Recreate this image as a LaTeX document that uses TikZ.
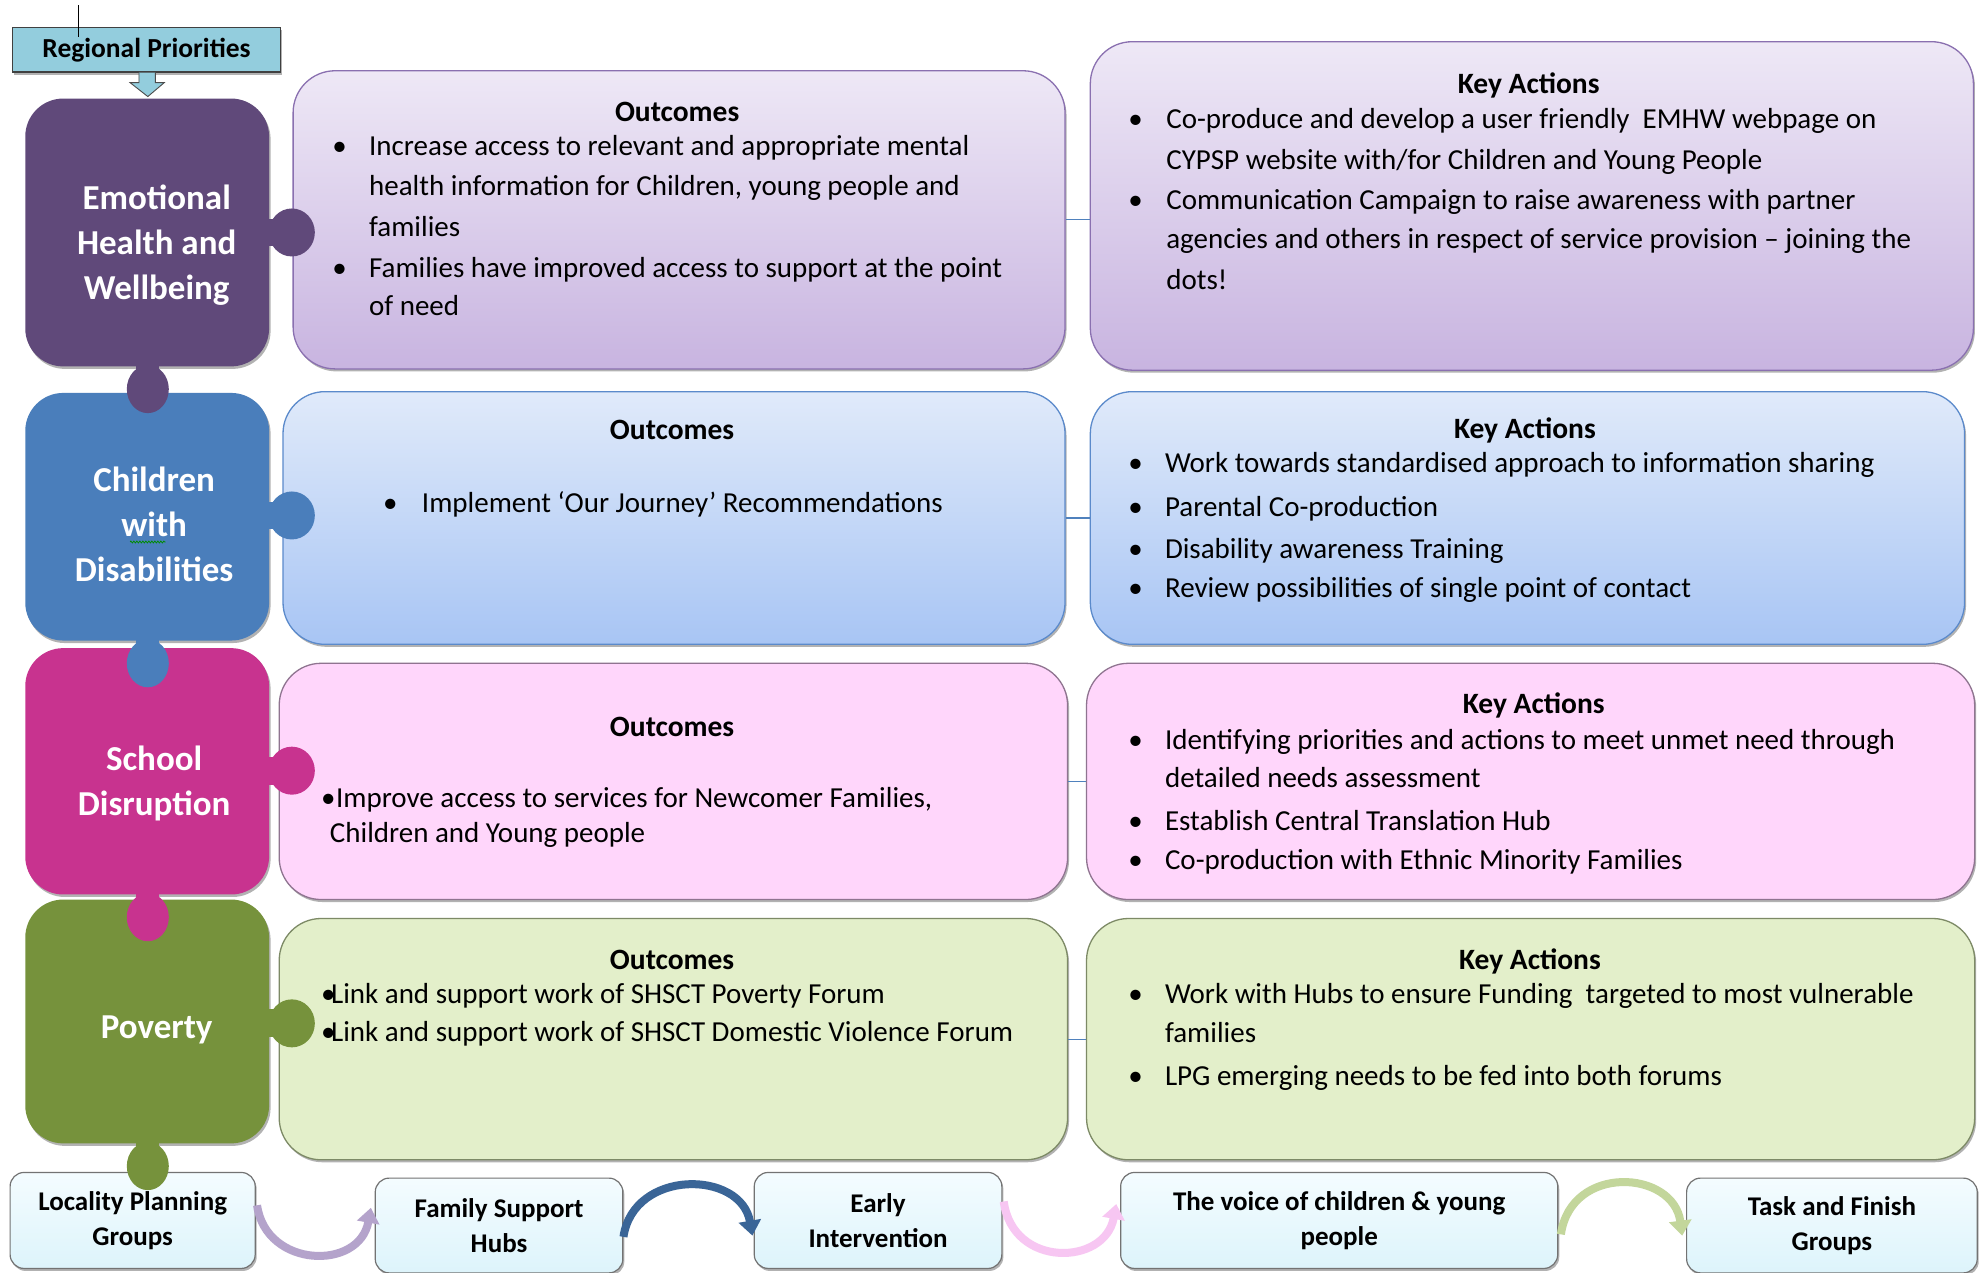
\documentclass[tikz,border=0pt]{standalone}
\usepackage{fontspec}
\setmainfont{Carlito}
\usetikzlibrary{fit,shadows,arrows.meta,decorations.pathmorphing,calc}
\definecolor{tEHW}{HTML}{60497A}
\definecolor{tCWD}{HTML}{4A7EBB}
\definecolor{tSD}{HTML}{C8338F}
\definecolor{tPOV}{HTML}{76923C}
\definecolor{pTop}{HTML}{EEE8F6}
\definecolor{pBot}{HTML}{C8B4E0}
\definecolor{pLine}{HTML}{8A70B0}
\definecolor{bTop}{HTML}{E0EAFA}
\definecolor{bBot}{HTML}{A8C5F4}
\definecolor{bLine}{HTML}{5B8ACB}
\definecolor{kFill}{HTML}{FFD6FB}
\definecolor{kLine}{HTML}{8F7490}
\definecolor{gFill}{HTML}{E3EFCA}
\definecolor{gLine}{HTML}{7D8A66}
\definecolor{cTop}{HTML}{F4FCFF}
\definecolor{cBot}{HTML}{DDF4FB}
\definecolor{rpBlue}{HTML}{93CDDD}
\definecolor{aLav}{HTML}{B4A3CB}
\definecolor{aBlue}{HTML}{3A6597}
\definecolor{aPink}{HTML}{F7C6F2}
\definecolor{aGreen}{HTML}{C3D69B}
\definecolor{conn}{HTML}{4F81BD}
\newcommand\bulletbox[1]{\makebox[#1][l]{•}}
\newcommand\txtline[4]{\node[body] (#1) at (#2,#3) {#4};}
\begin{document}
\begin{tikzpicture}[x=1.2634pt, y=-1.2634pt,
  shad/.style={drop shadow={shadow xshift=1.5pt, shadow yshift=-2.5pt, fill=black, opacity=0.3}},
  bigbox/.style={rounded corners=42pt, line width=1.3pt, inner sep=0pt, shad},
  purplebox/.style={bigbox, draw=pLine, top color=pTop, bottom color=pBot},
  bluebox/.style={bigbox, draw=bLine, top color=bTop, bottom color=bBot},
  pinkbox/.style={bigbox, draw=kLine, fill=kFill},
  greenbox/.style={bigbox, draw=gLine, fill=gFill},
  tile/.style={rounded corners=38pt, inner sep=0pt, draw=none, shad},
  tilelabel/.style={text=white, align=center, inner sep=0pt, font=\fontsize{35}{45}\selectfont\bfseries},
  body/.style={font=\fontsize{29}{36}\selectfont, inner sep=0pt, anchor=base west, text=black},
  head/.style={font=\fontsize{29.5}{36}\selectfont\bfseries, inner sep=0pt, anchor=base, text=black},
  cbox/.style={rounded corners=14pt, inner sep=0pt, draw=black!55, line width=1.2pt, top color=cTop, bottom color=cBot, align=center, shad, font=\fontsize{27}{35}\selectfont\bfseries},
  carrow/.style={line width=8pt, -{Triangle[length=15pt, width=22pt]}},
  link/.style={draw=conn, line width=1.1pt}
]
\useasboundingbox (0,0) rectangle (1568,1007);
\fill[white] (0,0) rectangle (1568,1007);

% ---- outcome and key action boxes
\node[purplebox, fit={(232,56) (843,292)}] (o1) {};
\node[purplebox, fit={(863,33) (1562,293)}] (k1) {};
\node[bluebox, fit={(224,310) (843,510)}] (o2) {};
\node[bluebox, fit={(863,310) (1555,510)}] (k2) {};
\node[pinkbox, fit={(221,525) (845,712)}] (o3) {};
\node[pinkbox, fit={(860,525) (1563,712)}] (k3) {};
\node[greenbox, fit={(221,727) (845,918)}] (o4) {};
\node[greenbox, fit={(860,727) (1563,918)}] (k4) {};

\draw[link] (o1.east) -- (o1.east -| k1.west);
\draw[link] (o2.east) -- (o2.east -| k2.west);
\draw[link] (o3.east) -- (o3.east -| k3.west);
\draw[link] (o4.east) -- (o4.east -| k4.west);

% ---- bottom boxes
\node[cbox, minimum width=245.1pt, minimum height=96pt] (lpg) at (105,966) {Locality Planning\\Groups};
\node[cbox, minimum width=247.6pt, minimum height=94.8pt] (fsh) at (395,970) {Family Support\\Hubs};
\node[cbox, minimum width=247.6pt, minimum height=96pt] (ei) at (695,966) {Early\\Intervention};
\node[cbox, minimum width=437.1pt, minimum height=96pt] (voice) at (1060,966) {The voice of children \& young\\people};
\node[cbox, minimum width=290.6pt, minimum height=94.8pt] (tf) at (1450,970) {Task and Finish\\Groups};

\draw[carrow, aLav] ($(lpg.east)+(1,-12)$) .. controls ($(lpg.east)+(8,38)$) and ($(fsh.west)+(-12,36)$) .. ($(fsh.west)+(-3,-14)$);
\draw[carrow, aBlue] ($(fsh.east)+(0,9)$) .. controls ($(fsh.east)+(8,-45)$) and ($(ei.west)+(-10,-40)$) .. ($(ei.west)+(-1,12)$);
\draw[carrow, aPink] ($(ei.east)+(1,-15)$) .. controls ($(ei.east)+(8,38)$) and ($(voice.west)+(-12,36)$) .. ($(voice.west)+(-3,-13)$);
\draw[carrow, aGreen] ($(voice.east)+(2,11)$) .. controls ($(voice.east)+(10,-45)$) and ($(tf.west)+(-10,-44)$) .. ($(tf.west)+(-3,8)$);

% ---- left puzzle tiles
\node[tile, fill=tEHW, fit={(20,78) (213,290)}] (t1) {};
\node[tile, fill=tCWD, fit={(20,311) (213,507)}] (t2) {};
\node[tile, fill=tSD, fit={(20,513) (213,708)}] (t3) {};
\node[tile, fill=tPOV, fit={(20,712) (213,905)}] (t4) {};

% knobs (right)
\foreach \c/\yy in {tEHW/184, tCWD/408, tSD/610, tPOV/810}{
  \fill[\c] (205,\yy-11) rectangle (226,\yy+11);
  \fill[\c] (231,\yy) ellipse [x radius=23pt, y radius=24pt];
}
% knobs (bottom)
\foreach \c/\yy in {tEHW/290, tCWD/507, tSD/708, tPOV/905}{
  \fill[\c] (108,\yy-6) rectangle (126,\yy+8);
  \fill[\c] (117,\yy+18) ellipse [x radius=21pt, y radius=24pt];
}

\node[tilelabel] (l1) at (124,194) {Emotional\\Health and\\Wellbeing};
\node[tilelabel] (l2) at (122,415) {Children\\with\\Disabilities};
\draw[green!55!black, line width=0.8pt, decorate, decoration={zigzag, amplitude=0.9pt, segment length=3pt}] (103,429) -- (131,429);
\node[tilelabel] (l3) at (122,620) {School\\Disruption};
\node[tilelabel] (l4) at (124,815) {Poverty};

% ---- regional priorities
\node[draw=black!75, line width=1.1pt, fill=rpBlue, inner sep=0pt, minimum width=267.8pt, minimum height=44.2pt, font=\fontsize{27.5}{33}\selectfont\bfseries, shad] (rp) at (116,39.5) {Regional Priorities};
\draw[draw=black!70, fill=rpBlue, line width=0.9pt] ($(rp.south)+(-6,0)$) -- ++(0,8) -- ++(-7,0) -- ($(rp.south)+(1,19)$) -- ($(rp.south)+(14,8)$) -- ++(-7,0) -- ++(0,-8);
\draw[black, line width=1.3pt] (62,4) -- (62,29);

% ---- row 1 text
\node[head] (o1h) at (536,96) {Outcomes};
\txtline{o1a}{263}{123}{\bulletbox{36.6pt}Increase access to relevant and appropriate mental}
\txtline{o1b}{292}{155}{health information for Children, young people and}
\txtline{o1c}{292}{187}{families}
\txtline{o1d}{263}{220}{\bulletbox{36.6pt}Families have improved access to support at the point}
\txtline{o1e}{292}{250}{of need}
\node[head] (k1h) at (1210,74) {Key Actions};
\txtline{k1a}{893}{102}{\bulletbox{37.9pt}Co-produce and develop a user friendly~ EMHW webpage on}
\txtline{k1b}{923}{134}{CYPSP website with/for Children and Young People}
\txtline{k1c}{893}{166}{\bulletbox{37.9pt}Communication Campaign to raise awareness with partner}
\txtline{k1d}{923}{197}{agencies and others in respect of service provision – joining the}
\txtline{k1e}{923}{229}{dots!}

% ---- row 2 text
\node[head] (o2h) at (532,348) {Outcomes};
\txtline{o2a}{303}{406}{\bulletbox{39pt}Implement ‘Our Journey’ Recommendations}
\node[head] (k2h) at (1207,347) {Key Actions};
\txtline{k2a}{893}{374}{\bulletbox{36.6pt}Work towards standardised approach to information sharing}
\txtline{k2b}{893}{409}{\bulletbox{36.6pt}Parental Co-production}
\txtline{k2c}{893}{442}{\bulletbox{36.6pt}Disability awareness Training}
\txtline{k2d}{893}{473}{\bulletbox{36.6pt}Review possibilities of single point of contact}

% ---- row 3 text
\node[head] (o3h) at (532,583) {Outcomes};
\txtline{o3a}{254}{639}{\bulletbox{15pt}Improve access to services for Newcomer Families,}
\txtline{o3b}{261}{667}{Children and Young people}
\node[head] (k3h) at (1214,565) {Key Actions};
\txtline{k3a}{893}{593}{\bulletbox{36.6pt}Identifying priorities and actions to meet unmet need through}
\txtline{k3b}{922}{623}{detailed needs assessment}
\txtline{k3c}{893}{657}{\bulletbox{36.6pt}Establish Central Translation Hub}
\txtline{k3d}{893}{688}{\bulletbox{36.6pt}Co-production with Ethnic Minority Families}

% ---- row 4 text
\node[head] (o4h) at (532,767) {Outcomes};
\txtline{o4a}{254}{794}{\bulletbox{10pt}Link and support work of SHSCT Poverty Forum}
\txtline{o4b}{254}{824}{\bulletbox{10pt}Link and support work of SHSCT Domestic Violence Forum}
\node[head] (k4h) at (1211,767) {Key Actions};
\txtline{k4a}{893}{794}{\bulletbox{36.6pt}Work with Hubs to ensure Funding~ targeted to most vulnerable}
\txtline{k4b}{922}{825}{families}
\txtline{k4c}{893}{859}{\bulletbox{36.6pt}LPG emerging needs to be fed into both forums}
\end{tikzpicture}
\end{document}
